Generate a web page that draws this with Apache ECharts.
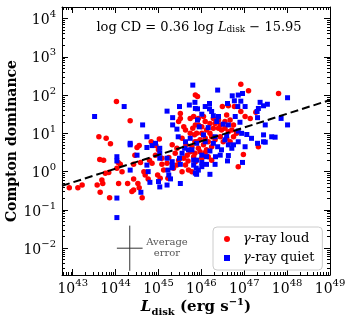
<!DOCTYPE html>
<html><head><meta charset="utf-8">
<script src="https://cdn.jsdelivr.net/npm/echarts@6/dist/echarts.min.js"></script>
<style>html,body{margin:0;padding:0;background:#fff}#c{width:352px;height:321px}</style>
</head><body><div id="c"></div>
<script>
// ---- data (log10 values) ----
const loudLogL = [44.02,44.34,43.61,43.78,43.88,43.63,43.72,42.92,43.12,43.22,43.57,43.68,43.70,43.76,43.84,43.64,43.86,44.06,44.11,44.03,44.15,44.07,44.28,44.38,44.42,44.42,44.52,44.55,44.62,44.50,44.55,44.45,44.42,44.58,44.66,44.69,44.76,44.79,44.85,44.83,44.94,45.02,45.00,45.08,44.93,44.98,45.04,45.08,45.12,45.20,45.24,45.22,45.39,45.47,45.43,45.51,45.51,45.47,45.59,45.63,45.74,45.82,45.86,45.74,45.67,45.74,45.63,45.70,45.78,45.55,45.86,45.86,45.35,45.32,
46.92,47.10,47.80,45.91,46.49,46.63,46.77,46.92,46.59,47.02,47.14,47.27,46.67,46.40,46.28,46.20,46.09,46.01,45.93,45.89,46.01,46.12,46.20,46.28,46.40,46.47,46.55,46.63,46.71,46.75,46.82,46.09,45.97,46.16,46.05,45.93,46.12,46.24,46.32,46.44,46.51,46.59,46.67,46.16,46.01,46.24,46.98,46.86,47.33,45.85,
45.55,45.64,45.78,45.82,45.69,45.59,45.43,45.84,45.90,45.80,45.93,46.05,46.32,46.55,46.44,46.75,46.24,45.85,45.97,46.09];
const loudLogCD = [1.83,1.33,0.91,0.87,0.73,0.32,0.30,-0.42,-0.42,-0.35,-0.35,-0.22,-0.31,-0.04,-0.02,-0.54,-0.68,0.24,0.19,0.09,0.00,-0.31,-0.31,-0.52,-0.48,-0.19,-0.31,-0.42,-0.68,0.63,0.68,0.43,0.19,0.24,0.00,-0.09,-0.19,0.30,0.22,0.78,0.68,0.85,0.57,0.35,0.43,-0.09,-0.17,0.19,0.04,0.22,0.37,-0.17,0.48,0.30,0.17,1.52,1.39,1.31,1.17,1.09,1.39,1.44,1.22,1.00,0.43,0.52,0.17,0.04,0.00,0.00,0.26,2.00,0.09,0.70,
2.28,2.11,2.04,1.96,1.70,1.72,1.70,1.57,1.48,1.44,1.39,1.55,1.35,1.35,1.39,1.26,1.31,1.17,1.22,1.00,1.00,1.09,1.00,1.13,1.13,1.09,1.13,1.04,1.09,1.22,1.00,0.87,0.83,0.78,0.70,0.61,0.57,0.65,0.83,0.91,0.78,0.87,0.78,0.39,0.35,0.30,0.45,0.13,0.65,0.48,
0.87,0.70,0.65,0.39,0.28,0.35,0.61,0.96,0.78,1.13,1.39,1.44,1.26,1.31,1.22,0.91,0.91,0.78,0.52,0.50];
const quietLogL = [44.20,43.51,44.63,44.34,44.34,44.73,44.85,44.73,44.93,44.50,44.03,44.03,44.73,44.76,44.34,44.80,44.59,44.03,45.03,45.03,45.03,45.00,45.03,45.20,45.33,45.49,45.33,45.43,45.46,45.20,45.32,45.32,45.32,45.22,45.24,45.28,45.20,45.51,45.49,45.51,45.61,45.70,45.78,45.74,45.63,45.72,45.80,45.86,45.86,45.82,45.88,44.03,
46.38,46.86,46.96,46.72,46.77,46.92,46.19,45.85,46.61,46.85,47.02,47.37,47.45,47.54,48.01,47.33,47.30,47.31,47.86,48.01,47.49,46.19,45.91,46.01,45.91,46.28,46.40,46.36,46.79,46.90,46.63,45.95,46.16,46.51,46.05,46.32,46.59,46.86,46.94,47.06,47.17,47.45,47.45,47.64,47.72,47.49,47.31,47.02,46.86,46.75,46.63,46.71,46.38,46.28,45.89,46.20,46.44,46.01,46.33,46.63,45.89,46.01,46.12,46.32,46.61,46.96,45.93,46.01,46.20,45.89,46.12,
45.55,45.82,46.09,46.47,46.55,46.24,46.09];
const quietLogCD = [1.70,1.44,1.22,0.74,0.70,0.91,0.68,0.63,0.74,0.43,0.39,0.28,0.17,0.00,0.04,-0.28,-0.54,-1.20,0.61,0.48,0.35,-0.26,-0.40,1.58,1.41,1.70,1.22,1.11,0.91,0.35,0.26,0.17,0.10,0.04,-0.09,-0.19,-0.35,-0.31,0.35,0.19,0.61,0.57,0.57,0.87,0.78,1.74,2.26,1.65,-0.04,0.17,0.09,-0.69,
2.13,2.00,2.04,1.98,1.85,1.84,1.78,1.81,1.78,1.70,1.70,1.81,1.72,1.76,1.93,1.65,1.57,1.41,1.39,1.22,1.22,1.64,1.64,1.50,1.35,1.46,1.44,1.31,1.44,1.29,1.22,1.17,1.15,1.24,0.96,0.91,0.94,1.06,1.00,0.97,0.87,0.96,0.78,0.91,0.90,0.77,0.74,0.65,0.78,0.70,0.70,0.61,0.65,0.74,0.74,0.54,0.43,0.43,0.39,0.42,0.30,0.24,0.19,0.19,0.28,0.24,0.04,0.13,-0.07,-0.07,0.39,
0.48,0.30,0.78,0.57,0.83,1.57,1.70];
const fitLogL = [42.75, 49];
const fitLogCD = [-0.37, 1.87];
const errCenterLog = [44.33, -2];
const errHalfLog = [0.30, 0.59];
const xRangeLog = [42.75, 49];
const yRangeLog = [-2.7, 4.3];
const fitText = ['log CD = 0.36 log ', 'L', 'disk', ' − 15.95'];
const errText = 'Average\nerror';
const legendNames = ['loud', 'quiet'];

// ---- build ----
const p = v => Math.pow(10, v);
const pairs = (xs, ys) => xs.map((x, i) => [p(x), p(ys[i])]);
const FONT = 'DejaVu Serif';
function expLabel(v) {
  const l = Math.log10(v), e = Math.round(l);
  if (Math.abs(l - e) > 0.01) return '';
  return '{b|10}{s|' + (e < 0 ? '−' + (-e) : e) + '}';
}
const richTick = {
  b: {fontFamily: FONT, fontSize: 14, color: '#000', lineHeight: 18, verticalAlign: 'bottom'},
  s: {fontFamily: FONT, fontSize: 10, color: '#000', lineHeight: 10, verticalAlign: 'top'}
};
function axis(extra) {
  return Object.assign({
    type: 'log', logBase: 10,
    nameMoveOverlap: false,
    axisLine: {show: true, onZero: false, lineStyle: {color: '#000', width: 1}},
    axisTick: {show: true, inside: true, length: 6, lineStyle: {color: '#000', width: 1}},
    minorTick: {show: true, splitNumber: 9, length: 3, lineStyle: {color: '#000', width: 1}},
    splitLine: {show: false}, minorSplitLine: {show: false}
  }, extra);
}
const xMin = p(xRangeLog[0]), xMax = p(xRangeLog[1]);
const yMin = p(yRangeLog[0]), yMax = p(yRangeLog[1]);

const chart = echarts.init(document.getElementById('c'), null, {renderer: 'canvas'});
chart.setOption({
  animation: false,
  backgroundColor: '#fff',
  grid: {left: 62, top: 7, width: 268, height: 268, containLabel: false, outerBoundsMode: 'none'},
  xAxis: [
    axis({position: 'bottom', min: xMin, max: xMax,
      axisLabel: {show: true, interval: 0, hideOverlap: false, margin: 3, formatter: expLabel, rich: richTick},
      name: '{i|L}{sub|disk}{n| (erg s}{sup|−1}{n|)}', nameLocation: 'middle', nameGap: 22,
      nameTextStyle: {rich: {
        i: {fontFamily: FONT, fontWeight: 'bold', fontStyle: 'italic', fontSize: 15, color: '#000', lineHeight: 20, verticalAlign: 'middle'},
        sub: {fontFamily: FONT, fontWeight: 'bold', fontSize: 10, color: '#000', lineHeight: 10, verticalAlign: 'bottom'},
        n: {fontFamily: FONT, fontWeight: 'bold', fontSize: 15, color: '#000', lineHeight: 20, verticalAlign: 'middle'},
        sup: {fontFamily: FONT, fontWeight: 'bold', fontSize: 10, color: '#000', lineHeight: 10, verticalAlign: 'top'}
      }}}),
    axis({position: 'top', min: xMin, max: xMax, axisLabel: {show: false}})
  ],
  yAxis: [
    axis({position: 'left', min: yMin, max: yMax,
      axisLabel: {show: true, interval: 0, hideOverlap: false, margin: 6, formatter: expLabel, rich: richTick},
      name: 'Compton dominance', nameLocation: 'middle', nameGap: 43,
      nameTextStyle: {fontFamily: FONT, fontWeight: 'bold', fontSize: 14, color: '#000'}}),
    axis({position: 'right', min: yMin, max: yMax, axisLabel: {show: false}})
  ],
  legend: {
    orient: 'vertical', left: 213, top: 227, padding: [5, 8, 5, 11], itemGap: 5,
    backgroundColor: '#fff', borderColor: '#cccccc', borderWidth: 1, borderRadius: 4,
    itemWidth: 6, itemHeight: 6,
    data: [{name: legendNames[0], icon: 'circle'}, {name: legendNames[1], icon: 'rect'}],
    formatter: n => '{g|γ}-ray ' + n,
    textStyle: {fontFamily: FONT, fontSize: 13, color: '#000', lineHeight: 14, padding: [0, 0, 0, 8],
      rich: {g: {fontFamily: FONT, fontStyle: 'italic', fontSize: 13, color: '#000'}}}
  },
  graphic: [
    {type: 'text', x: 199, y: 21, z: 10,
      style: {text: fitText[0] + '{i|' + fitText[1] + '}{sub|' + fitText[2] + '}' + fitText[3],
        font: '13px "DejaVu Serif"', fill: '#000', align: 'center',
        rich: {
          i: {fontFamily: FONT, fontStyle: 'italic', fontSize: 13, fill: '#000'},
          sub: {fontFamily: FONT, fontSize: 9, fill: '#000', verticalAlign: 'bottom', lineHeight: 8}
        }}},
    {type: 'text', x: 167, y: 237, z: 10,
      style: {text: errText, font: '10px "DejaVu Serif"', fill: '#555', align: 'center', lineHeight: 11}}
  ],
  series: [
    {name: 'fit', type: 'line', data: pairs(fitLogL, fitLogCD), symbol: 'none', z: 5,
      lineStyle: {color: '#000', width: 2, type: [8, 4]}},
    {name: legendNames[0], type: 'scatter', data: pairs(loudLogL, loudLogCD), symbol: 'circle', symbolSize: 5.5,
      itemStyle: {color: '#ff0000', opacity: 1}, z: 3},
    {name: legendNames[1], type: 'scatter', data: pairs(quietLogL, quietLogCD), symbol: 'rect', symbolSize: 5,
      itemStyle: {color: '#0000ff', opacity: 1}, z: 4},
    {name: 'errH', type: 'line', symbol: 'none', z: 6,
      data: [[p(errCenterLog[0] - errHalfLog[0]), p(errCenterLog[1])], [p(errCenterLog[0] + errHalfLog[0]), p(errCenterLog[1])]],
      lineStyle: {color: '#333', width: 1}},
    {name: 'errV', type: 'line', symbol: 'none', z: 6,
      data: [[p(errCenterLog[0]), p(errCenterLog[1] - errHalfLog[1])], [p(errCenterLog[0]), p(errCenterLog[1] + errHalfLog[1])]],
      lineStyle: {color: '#333', width: 1}}
  ]
});
</script></body></html>
